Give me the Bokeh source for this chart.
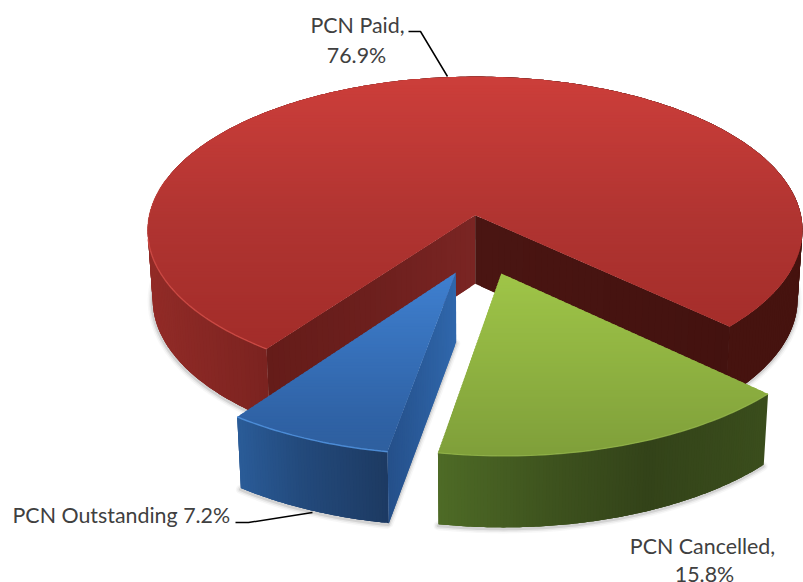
import math
from bokeh.plotting import figure
from bokeh.embed import file_html
from bokeh.resources import INLINE
from bokeh.core.properties import value

categories = ["PCN Paid", "PCN Cancelled", "PCN Outstanding"]
shares = [76.9, 15.8, 7.2]
label_lines = [["PCN Paid,", "76.9%"], ["PCN Cancelled,", "15.8%"], ["PCN Outstanding 7.2%"]]

# Projection of the tilted disc on the page
CX, CY, RX, RY, PERSP = 480.5, 244.0, 332.0, 158.0, 0.10
EXPLODE, DEPTH, FIRST_ANGLE, BASE_SHRINK = 0.19, 69.0, 216.0, 0.985
FONT = "Lato"
TEXT_COLOR = "#404040"

TOP_STOPS = [
    [(77, "#cc3e3a"), (220, "#b03431"), (352, "#a22c29")],
    [(273, "#9fc548"), (455, "#7f9f3a")],
    [(272, "#3f80d0"), (420, "#2f62a5"), (453, "#2f5f9e")],
]
WALL_STOPS = [
    [(148, "#922b27"), (268, "#7b2320"), (400, "#7b2320"), (560, "#45130f"), (803, "#46130f")],
    [(438, "#4e6b26"), (550, "#3e531e"), (650, "#334319"), (765, "#3a4d1c")],
    [(240, "#2a5b97"), (300, "#234a7c"), (389, "#1d3a62")],
]
RIM_COLORS = ["#d04c46", "#93b54a", "#4f90dc"]


def hex2rgb(h):
    return [int(h[i:i + 2], 16) for i in (1, 3, 5)]


def ramp(stops, t):
    if t <= stops[0][0]:
        return stops[0][1]
    for (a, ca), (b, cb) in zip(stops, stops[1:]):
        if t <= b:
            f = (t - a) / (b - a)
            c = [round(p + (q - p) * f) for p, q in zip(hex2rgb(ca), hex2rgb(cb))]
            return "#%02x%02x%02x" % tuple(c)
    return stops[-1][1]


def project(u, v):
    d = 1 - PERSP * v
    return CX + RX * u / d, CY + RY * v / d


def lower(u, v):
    x, y = project(u, v)
    return CX + (x - CX) * BASE_SHRINK, y + DEPTH * (1 + 0.03 * v)


# Slice angles come from the shares
total = sum(shares)
slices = []
ang = FIRST_ANGLE
for s in shares:
    sweep = s / total * 360
    mid = math.radians(ang + sweep / 2)
    slices.append(dict(a0=ang, a1=ang + sweep,
                       du=EXPLODE * math.sin(mid), dv=-EXPLODE * math.cos(mid)))
    ang += sweep


def rim_uv(sl, deg):
    t = math.radians(deg)
    return sl["du"] + math.sin(t), sl["dv"] - math.cos(t)


def rim_angles(sl, step=1.0):
    n = max(2, int((sl["a1"] - sl["a0"]) / step))
    return [sl["a0"] + (sl["a1"] - sl["a0"]) * i / n for i in range(n + 1)]


def clip(poly, y, keep_below):
    out = []
    for (x0, y0), (x1, y1) in zip(poly, poly[1:] + poly[:1]):
        in0 = (y0 >= y) == keep_below
        in1 = (y1 >= y) == keep_below
        if in0:
            out.append((x0, y0))
        if in0 != in1:
            f = (y - y0) / (y1 - y0)
            out.append((x0 + (x1 - x0) * f, y))
    return out


p = figure(width=803, height=582, x_range=(0, 803), y_range=(582, 0),
           output_backend="svg", toolbar_location=None, min_border=0)
p.axis.visible = False
p.grid.visible = False
p.outline_line_color = None
p.background_fill_color = "white"


def fill_bare(polys, colors):
    p.patches([[q[0] for q in poly] for poly in polys],
              [[q[1] for q in poly] for poly in polys],
              fill_color=colors, line_color=None)


def shadow(path):
    xs = [q[0] - 0.5 for q in path]
    ys = [q[1] + 1.5 for q in path]
    for w, a in ((9, 0.05), (6, 0.09), (3, 0.16)):
        p.line(xs, ys, line_color="#606060", line_alpha=a, line_width=w, line_cap="round")


def outer_wall(i, angles):
    sl = slices[i]
    polys, cols = [], []
    for k in range(len(angles) - 1):
        # each quad runs on under the next one, so no seam can show
        run = angles[k:k + 4]
        top = [project(*rim_uv(sl, a)) for a in run]
        low = [lower(*rim_uv(sl, a)) for a in run]
        polys.append(top + low[::-1])
        cols.append(ramp(WALL_STOPS[i], top[0][0]))
    fill_bare(polys, cols)


def cut_face(i, deg, stops, n=40):
    sl = slices[i]
    ue, ve = rim_uv(sl, deg)
    polys, cols = [], []
    for k in range(n):
        f0, f1 = k / n, min(1, (k + 2) / n)
        u0, v0 = sl["du"] + (ue - sl["du"]) * f0, sl["dv"] + (ve - sl["dv"]) * f0
        u1, v1 = sl["du"] + (ue - sl["du"]) * f1, sl["dv"] + (ve - sl["dv"]) * f1
        polys.append([project(u0, v0), project(u1, v1), lower(u1, v1), lower(u0, v0)])
        cols.append(ramp(stops, project(u0, v0)[0]))
    fill_bare(polys, cols)


def top_face(i):
    sl = slices[i]
    poly = [project(sl["du"], sl["dv"])] + [project(*rim_uv(sl, a)) for a in rim_angles(sl)]
    ys = [q[1] for q in poly]
    y0, y1 = math.floor(min(ys)), math.ceil(max(ys))
    polys, cols = [], []
    for y in range(y0, y1, 3):
        band = clip(clip(poly, y, True), y + 4.5, False)
        if len(band) >= 3:
            polys.append(band)
            cols.append(ramp(TOP_STOPS[i], y + 1.5))
    fill_bare(polys, cols)


red, green, blue = slices

# soft ground shadows
shadow([lower(*rim_uv(red, a)) for a in rim_angles(red) if a < 300])
shadow([lower(*rim_uv(red, a)) for a in rim_angles(red) if a > 405])
shadow([lower(*rim_uv(green, a)) for a in rim_angles(green)])
shadow([lower(*rim_uv(blue, a)) for a in rim_angles(blue)]
       [::-1] + [lower(blue["du"], blue["dv"])])

# red slice
outer_wall(0, rim_angles(red, 1.0))
cut_face(0, red["a0"], [(268, "#651c19"), (370, "#6c1f1d"), (475, "#7a2523")])
cut_face(0, red["a1"], [(475, "#4a1512"), (730, "#43120f")])
top_face(0)
p.line(*zip(*[project(*rim_uv(red, a)) for a in rim_angles(red) if a < 262]),
       line_color=RIM_COLORS[0], line_width=1.4, line_alpha=0.85)
p.line(*zip(*[project(*rim_uv(red, a)) for a in rim_angles(red) if 258 < a < 285]),
       line_color=RIM_COLORS[0], line_width=1.2, line_alpha=0.35)

# blue slice
outer_wall(2, rim_angles(blue, 0.5))
cut_face(2, blue["a0"], [(389, "#25508a"), (458, "#3068ad")])
top_face(2)
p.line(*zip(*[project(*rim_uv(blue, a)) for a in rim_angles(blue)]),
       line_color=RIM_COLORS[2], line_width=1.5, line_alpha=0.9)

# green slice
outer_wall(1, rim_angles(green, 0.5))
top_face(1)
p.line(*zip(*[project(*rim_uv(green, a)) for a in rim_angles(green)]),
       line_color=RIM_COLORS[1], line_width=1.3, line_alpha=0.8)

# leader lines
p.line([408, 420, 447], [31, 31, 76], line_color="black", line_width=1.5)
p.line([235, 248, 312], [522, 522, 512], line_color="black", line_width=1.5)


def label(txt, x, y, align):
    p.text([x], [y], text=[txt], text_font=value(FONT), text_font_size="21.4px",
           text_color=TEXT_COLOR, text_align=align, text_baseline="alphabetic")


label(label_lines[0][0], 357, 24, "center")
label(label_lines[0][1], 356, 54, "center")
label(label_lines[1][0], 702, 545, "center")
label(label_lines[1][1], 704, 573, "center")
label(label_lines[2][0], 12, 514, "left")

open("out.html", "w").write(file_html(p, INLINE))
